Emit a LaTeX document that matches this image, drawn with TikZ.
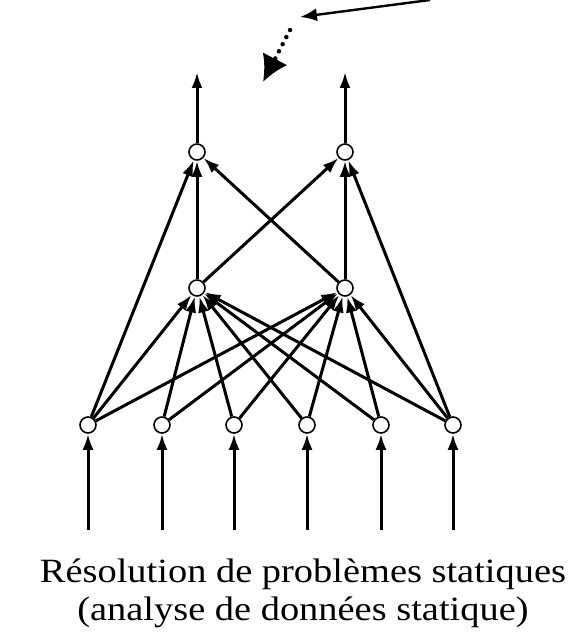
\documentclass[tikz,border=0pt]{standalone}
\usepackage{fontspec}
\setmainfont{Liberation Serif}
\usetikzlibrary{arrows.meta}
\tikzset{
  unit/.style={circle, draw=black, line width=1.6pt, fill=white, inner sep=0pt, minimum size=16pt},
  conn/.style={line width=3pt, -{Latex[length=16pt,width=11pt]}},
}

\begin{document}
\begin{tikzpicture}[x=1pt, y=1pt]
	\useasboundingbox (0,0) rectangle (584,643);
	
	% couches
	\foreach \i/\x in {1/88, 2/162, 3/234, 4/307, 5/381, 6/453} {
		\node[unit] (in\i) at (\x, 218) {};
		\coordinate (src\i) at (\x, 113);
	}
	\node[unit] (hid1) at (197, 355) {};
	\node[unit] (hid2) at (345, 355) {};
	\node[unit] (out1) at (197, 491) {};
	\node[unit] (out2) at (345, 491) {};
	\coordinate (top1) at (197, 571);
	\coordinate (top2) at (345, 571);
	
	% entrees
	\foreach \i in {1,...,6} {
		\draw[conn] (src\i) -- (in\i);
	}
	\foreach \i in {1,...,6} {
		\draw[conn] (in\i) -- (hid1);
		\draw[conn] (in\i) -- (hid2);
	}
	\foreach \j in {1,2} {
		\draw[conn] (hid\j) -- (out1);
		\draw[conn] (hid\j) -- (out2);
		\draw[conn] (out\j) -- (top\j);
	}
	\draw[conn] (in1) -- (out1);
	\draw[conn] (in6) -- (out2);
	
	% fleches du haut
	\coordinate (a0) at (430, 643);
	\coordinate (a1) at (300, 626);
	\coordinate (b0) at (290, 613);
	\coordinate (b1) at (263, 561);
	\draw[line width=2.4pt, -{Latex[length=17pt,width=13pt]}] (a0) -- (a1);
	\draw[line width=4.5pt, line cap=round, dash pattern=on 0pt off 8pt, -{Latex[length=26pt,width=28pt]}] (b0) -- (b1);
	
	\node[font=\fontsize{34}{38}\selectfont, align=center, anchor=base, xscale=1.13] (titre) at (303, 23)
		{Résolution de problèmes statiques\\(analyse de données statique)};
\end{tikzpicture}
\end{document}
